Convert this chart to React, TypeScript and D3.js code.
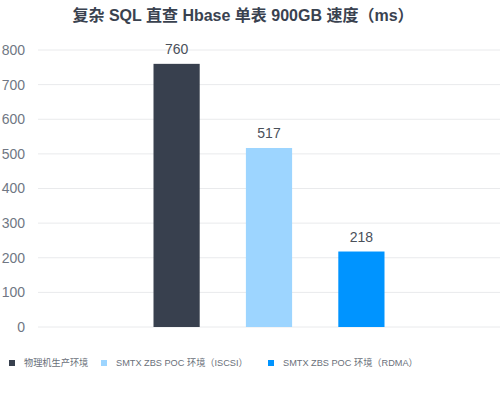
import * as d3 from "d3";

// chart data
const categories = ["复杂 SQL 直查"];
const series = ["物理机生产环境", "SMTX ZBS POC 环境（ISCSI）", "SMTX ZBS POC 环境（RDMA）"];
const values = [760, 517, 218];
const yTicks = [0, 100, 200, 300, 400, 500, 600, 700, 800];
const colors = ["#38404e", "#9dd5ff", "#0094ff"];
const title = "复杂 SQL 直查 Hbase 单表 900GB 速度（ms）";

const width = 500;
const height = 403;
const m = {t: 50, r: 0, b: 76, l: 38};
const legendX = [9, 101, 268];
const font = "'Liberation Sans', 'Noto Sans CJK SC', sans-serif";

const App = () => {
    const x0 = d3.scaleBand()
        .domain(categories)
        .range([m.l, width - m.r]);
    const x1 = d3.scaleBand()
        .domain(series)
        .range([x0(categories[0]) || 0, (x0(categories[0]) || 0) + x0.bandwidth()])
        .paddingInner(0.5)
        .paddingOuter(1.25);
    const y = d3.scaleLinear()
        .domain([0, 800])
        .range([height - m.b, m.t]);

    return (
        <svg width={width} height={height}
             style={{position: "absolute", left: 0, top: 0, background: "#fff", fontFamily: font}}>
            <text x={243} y={21} textAnchor="middle" fontSize={16} fontWeight={700} fill="#3a4250">
                {title}
            </text>
            <g>
                {yTicks.map(t => (
                    <g key={t}>
                        <line x1={m.l} x2={width - m.r} y1={y(t)} y2={y(t)} stroke="#e9eaec" strokeWidth={1}/>
                        <text x={25} y={y(t)} dy="0.35em" textAnchor="end" fontSize={14} fill="#707784">{t}</text>
                    </g>
                ))}
            </g>
            <g>
                {series.map((s, i) => (
                    <g key={s}>
                        <rect x={x1(s)} y={y(values[i])} width={x1.bandwidth()}
                              height={y(0) - y(values[i])} fill={colors[i]}/>
                        <text x={(x1(s) || 0) + x1.bandwidth() / 2} y={y(values[i]) - 10}
                              textAnchor="middle" fontSize={14} fill="#4a505a">{values[i]}</text>
                    </g>
                ))}
            </g>
            <g>
                {series.map((s, i) => (
                    <g key={s} transform={`translate(${legendX[i]}, 363)`}>
                        <rect x={0} y={-3} width={6} height={6} fill={colors[i]}/>
                        <text x={15} y={0} dy="0.35em" fontSize={9.2} fill="#6a707a">{s}</text>
                    </g>
                ))}
            </g>
        </svg>
    );
};

export default App;
